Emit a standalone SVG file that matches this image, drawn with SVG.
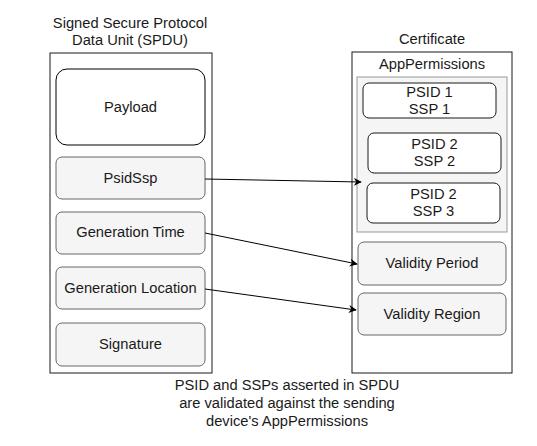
<svg xmlns="http://www.w3.org/2000/svg" width="537" height="446" viewBox="0 0 537 446">
<defs>
<style>
text{font-family:"Liberation Sans",Arial,sans-serif;font-size:14.7px;fill:#1a1a1a;text-anchor:middle}
.outer{fill:#fff;stroke:#1a1a1a;stroke-width:1}
.field{fill:#f5f5f5;stroke:#666;stroke-width:1}
.inner{fill:#fff;stroke:#1a1a1a;stroke-width:1}
.conn{stroke:#000;stroke-width:1;fill:none;marker-end:url(#ah)}
</style>
<marker id="ah" viewBox="0 0 10 10" refX="9" refY="5" markerWidth="8" markerHeight="8" markerUnits="userSpaceOnUse" orient="auto">
<path d="M0,0 L10,5 L0,10 L3,5 Z" fill="#000"/>
</marker>
</defs>
<rect width="537" height="446" fill="#fff"/>
<g id="spdu">
<text x="130" y="28">Signed Secure Protocol</text>
<text x="130" y="45">Data Unit (SPDU)</text>
<rect class="outer" x="50" y="53" width="162" height="320"/>
</g>
<g id="payload">
<rect x="56" y="69" width="149" height="76" rx="11" fill="#fff" stroke="#000"/>
<text x="130.5" y="112">Payload</text>
</g>
<g id="psidssp">
<rect class="field" x="56" y="157" width="149" height="42" rx="6"/>
<text x="130.5" y="183">PsidSsp</text>
</g>
<g id="gentime">
<rect class="field" x="56" y="212" width="149" height="42" rx="6"/>
<text x="130.5" y="237">Generation Time</text>
</g>
<g id="genloc">
<rect class="field" x="56" y="267" width="149" height="42" rx="6"/>
<text x="130.5" y="293">Generation Location</text>
</g>
<g id="signature">
<rect class="field" x="56" y="323" width="149" height="43" rx="6"/>
<text x="130.5" y="349">Signature</text>
</g>
<g id="certificate">
<text x="432" y="44">Certificate</text>
<rect class="outer" x="352" y="52" width="160" height="321"/>
<text x="432" y="69">AppPermissions</text>
</g>
<g id="apppermissions">
<rect x="357" y="77" width="150" height="155" fill="#f5f5f5" stroke="#999"/>
</g>
<g id="psid1">
<rect class="inner" x="363" y="83" width="133" height="35" rx="6"/>
<text x="429.5" y="97">PSID 1</text>
<text x="429.5" y="114">SSP 1</text>
</g>
<g id="psid2ssp2">
<rect class="inner" x="368" y="133" width="133" height="40" rx="6"/>
<text x="434.5" y="149">PSID 2</text>
<text x="434.5" y="166">SSP 2</text>
</g>
<g id="psid2ssp3">
<rect class="inner" x="367" y="183" width="133" height="40" rx="6"/>
<text x="433.5" y="199">PSID 2</text>
<text x="433.5" y="216">SSP 3</text>
</g>
<g id="validityperiod">
<rect class="field" x="358" y="242" width="148" height="43" rx="6"/>
<text x="432" y="268">Validity Period</text>
</g>
<g id="validityregion">
<rect class="field" x="358" y="293" width="148" height="42" rx="6"/>
<text x="432" y="319">Validity Region</text>
</g>
<g id="connectors">
<path class="conn" d="M205,179 L361,182"/>
<path class="conn" d="M205,233 L357,264"/>
<path class="conn" d="M205,289 L356,310"/>
</g>
<g id="caption">
<text x="287" y="390">PSID and SSPs asserted in SPDU</text>
<text x="287" y="408">are validated against the sending</text>
<text x="287" y="426">device's AppPermissions</text>
</g>
</svg>
